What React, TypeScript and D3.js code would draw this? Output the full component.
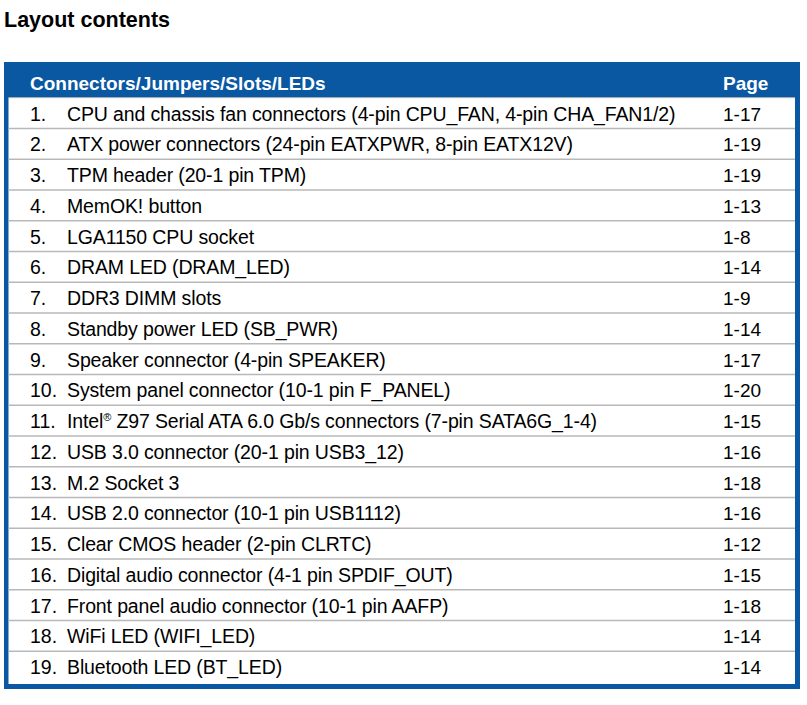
import React from "react";
import * as d3 from "d3";

const title = "Layout contents";
const headerLabel = "Connectors/Jumpers/Slots/LEDs";
const headerPage = "Page";
const numbers = ["1.", "2.", "3.", "4.", "5.", "6.", "7.", "8.", "9.", "10.", "11.", "12.", "13.", "14.", "15.", "16.", "17.", "18.", "19."];
const items = [
  "CPU and chassis fan connectors (4-pin CPU_FAN, 4-pin CHA_FAN1/2)",
  "ATX power connectors (24-pin EATXPWR, 8-pin EATX12V)",
  "TPM header (20-1 pin TPM)",
  "MemOK! button",
  "LGA1150 CPU socket",
  "DRAM LED (DRAM_LED)",
  "DDR3 DIMM slots",
  "Standby power LED (SB_PWR)",
  "Speaker connector (4-pin SPEAKER)",
  "System panel connector (10-1 pin F_PANEL)",
  "Intel|® Z97 Serial ATA 6.0 Gb/s connectors (7-pin SATA6G_1-4)",
  "USB 3.0 connector (20-1 pin USB3_12)",
  "M.2 Socket 3",
  "USB 2.0 connector (10-1 pin USB1112)",
  "Clear CMOS header (2-pin CLRTC)",
  "Digital audio connector (4-1 pin SPDIF_OUT)",
  "Front panel audio connector (10-1 pin AAFP)",
  "WiFi LED (WIFI_LED)",
  "Bluetooth LED (BT_LED)",
];
const pages = ["1-17", "1-19", "1-19", "1-13", "1-8", "1-14", "1-9", "1-14", "1-17", "1-20", "1-15", "1-16", "1-18", "1-16", "1-12", "1-15", "1-18", "1-14", "1-14"];

const W = 807;
const H = 705;
const BLUE = "#0b58a2";
const FONT = "'Liberation Sans', Arial, Helvetica, sans-serif";

export default function App() {
  const left = 4, right = 800, top = 62, headerBottom = 97.7, rowH = 30.75;
  const y = d3.scaleLinear().domain([0, items.length]).range([headerBottom, headerBottom + rowH * items.length]);
  const bottom = 684;
  const renderItem = (s: string) => {
    if (s.includes("|")) {
      const [a, b] = s.split("|");
      const sup = b.charAt(0);
      const rest = b.slice(1);
      return (
        <>
          <tspan>{a}</tspan>
          <tspan fontSize={11} dy={-7}>{sup}</tspan>
          <tspan dy={7}>{rest}</tspan>
        </>
      );
    }
    return s;
  };
  return (
    <svg width={W} height={H} style={{ position: "absolute", left: 0, top: 0, background: "#fff" }} fontFamily={FONT}>
      <rect x={0} y={0} width={W} height={H} fill="#fff" />
      <text x={4} y={26.5} fontSize={21.5} fontWeight="bold" fill="#000">{title}</text>
      <rect x={left} y={top} width={right - left} height={bottom + 5 - top} fill={BLUE} />
      <rect x={8.5} y={headerBottom} width={795 - 8.5} height={bottom - headerBottom} fill="#fff" />
      {items.map((_, i) => (
        <line key={"l" + i} x1={8.5} x2={795} y1={y(i + 1)} y2={y(i + 1)} stroke="#b8b8b8" strokeWidth={1.5} style={{ display: i === items.length - 1 ? "none" : undefined }} />
      ))}
      <line x1={8.5} x2={795} y1={headerBottom} y2={headerBottom} stroke="#b8b8b8" strokeWidth={1} />
      <text x={30} y={89.5} fontSize={19} fontWeight="bold" fill="#fff">{headerLabel}</text>
      <text x={723} y={89.5} fontSize={19} fontWeight="bold" fill="#fff">{headerPage}</text>
      {items.map((s, i) => (
        <g key={"r" + i} fontSize={19.5} fill="#000">
          <text x={30} y={y(i) + 23}>{numbers[i]}</text>
          <text x={67} y={y(i) + 23} letterSpacing={-0.13}>{renderItem(s)}</text>
          <text x={723} y={y(i) + 23} fontSize={19}>{pages[i]}</text>
        </g>
      ))}
    </svg>
  );
}
